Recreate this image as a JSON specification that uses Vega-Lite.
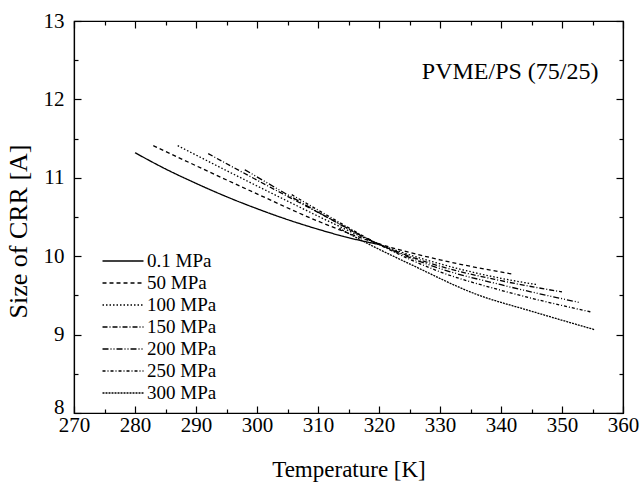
{
  "$schema": "https://vega.github.io/schema/vega-lite/v6.json",
  "width": 549,
  "height": 392,
  "autosize": "none",
  "padding": {"left": 74, "top": 21, "right": 19, "bottom": 76},
  "background": "white",
  "config": {
    "view": {"stroke": "black", "strokeWidth": 1.2},
    "font": "Liberation Serif"
  },
  "data": {"values": [
    {"p": "0.1 MPa", "T": 280, "v": 11.32},
    {"p": "0.1 MPa", "T": 285, "v": 11.113},
    {"p": "0.1 MPa", "T": 290, "v": 10.929},
    {"p": "0.1 MPa", "T": 295, "v": 10.759},
    {"p": "0.1 MPa", "T": 300, "v": 10.606},
    {"p": "0.1 MPa", "T": 305, "v": 10.467},
    {"p": "0.1 MPa", "T": 310, "v": 10.344},
    {"p": "0.1 MPa", "T": 315, "v": 10.236},
    {"p": "0.1 MPa", "T": 320, "v": 10.149},
    {"p": "50 MPa", "T": 283, "v": 11.41},
    {"p": "50 MPa", "T": 290, "v": 11.154},
    {"p": "50 MPa", "T": 300, "v": 10.795},
    {"p": "50 MPa", "T": 310, "v": 10.447},
    {"p": "50 MPa", "T": 319.5, "v": 10.17},
    {"p": "50 MPa", "T": 330, "v": 9.954},
    {"p": "50 MPa", "T": 342, "v": 9.77},
    {"p": "100 MPa", "T": 287, "v": 11.41},
    {"p": "100 MPa", "T": 295, "v": 11.092},
    {"p": "100 MPa", "T": 305, "v": 10.703},
    {"p": "100 MPa", "T": 312, "v": 10.436},
    {"p": "100 MPa", "T": 319.5, "v": 10.17},
    {"p": "100 MPa", "T": 330, "v": 9.903},
    {"p": "100 MPa", "T": 340, "v": 9.718},
    {"p": "100 MPa", "T": 346, "v": 9.636},
    {"p": "150 MPa", "T": 292, "v": 11.308},
    {"p": "150 MPa", "T": 300, "v": 10.97},
    {"p": "150 MPa", "T": 310, "v": 10.559},
    {"p": "150 MPa", "T": 319.5, "v": 10.17},
    {"p": "150 MPa", "T": 330, "v": 9.872},
    {"p": "150 MPa", "T": 340, "v": 9.688},
    {"p": "150 MPa", "T": 350, "v": 9.544},
    {"p": "200 MPa", "T": 298, "v": 11.103},
    {"p": "200 MPa", "T": 305, "v": 10.785},
    {"p": "200 MPa", "T": 312, "v": 10.477},
    {"p": "200 MPa", "T": 319.5, "v": 10.17},
    {"p": "200 MPa", "T": 330, "v": 9.842},
    {"p": "200 MPa", "T": 340, "v": 9.636},
    {"p": "200 MPa", "T": 352.8, "v": 9.411},
    {"p": "250 MPa", "T": 305.7, "v": 10.785},
    {"p": "250 MPa", "T": 312, "v": 10.498},
    {"p": "250 MPa", "T": 319.5, "v": 10.17},
    {"p": "250 MPa", "T": 330, "v": 9.801},
    {"p": "250 MPa", "T": 340, "v": 9.565},
    {"p": "250 MPa", "T": 354.8, "v": 9.288},
    {"p": "300 MPa", "T": 313.5, "v": 10.354},
    {"p": "300 MPa", "T": 319.5, "v": 10.108},
    {"p": "300 MPa", "T": 325, "v": 9.903},
    {"p": "300 MPa", "T": 336, "v": 9.513},
    {"p": "300 MPa", "T": 345, "v": 9.298},
    {"p": "300 MPa", "T": 355.4, "v": 9.062}
  ]},
  "resolve": {"axis": {"x": "independent", "y": "independent"}},
  "layer": [
    {
      "mark": {"type": "line", "color": "black", "strokeWidth": 1.3, "interpolate": "monotone"},
      "encoding": {
        "x": {
          "field": "T", "type": "quantitative",
          "scale": {"domain": [270, 360], "nice": false, "zero": false},
          "axis": {
            "title": "Temperature [K]",
            "values": [270, 275, 280, 285, 290, 295, 300, 305, 310, 315, 320, 325, 330, 335, 340, 345, 350, 355, 360],
            "labelExpr": "datum.value % 10 === 0 ? format(datum.value, 'd') : ''",
            "grid": false, "domainColor": "black", "domainWidth": 1.2, "tickColor": "black", "tickWidth": 1.2,
            "tickSize": {"condition": {"test": "datum.value % 10 === 0", "value": -7}, "value": -4},
            "labelPadding": 8, "labelFontSize": 21, "labelColor": "black", "labelFont": "Liberation Serif",
            "labelFlush": false, "labelOverlap": false,
            "titleFontSize": 23, "titleFont": "Liberation Serif", "titleFontWeight": "normal", "titleColor": "black", "titlePadding": 20
          }
        },
        "y": {
          "field": "v", "type": "quantitative",
          "scale": {"domain": [8, 13], "nice": false, "zero": false},
          "axis": {
            "title": "Size of CRR [A]",
            "values": [8, 8.5, 9, 9.5, 10, 10.5, 11, 11.5, 12, 12.5, 13],
            "labelExpr": "datum.value % 1 === 0 ? format(datum.value, 'd') : ''",
            "labelBaseline": {"condition": {"test": "datum.value === 8", "value": "alphabetic"}, "value": "middle"},
            "grid": false, "domainColor": "black", "domainWidth": 1.2, "tickColor": "black", "tickWidth": 1.2,
            "tickSize": {"condition": {"test": "datum.value % 1 === 0", "value": -7}, "value": -4},
            "labelPadding": 17, "labelFontSize": 21, "labelColor": "black", "labelFont": "Liberation Serif",
            "labelFlush": false, "labelOverlap": false,
            "titleFontSize": 26, "titleFont": "Liberation Serif", "titleFontWeight": "normal", "titleColor": "black", "titlePadding": 12,
            "titleY": 210
          }
        },
        "strokeDash": {
          "field": "p", "type": "nominal",
          "scale": {
            "domain": ["0.1 MPa", "50 MPa", "100 MPa", "150 MPa", "200 MPa", "250 MPa", "300 MPa"],
            "range": [[1, 0], [4, 3], [1.5, 2], [5, 2, 1, 2], [6, 2, 1, 2, 1, 2], [3, 2, 1, 2], [2, 1]]
          },
          "legend": {
            "title": null, "orient": "none", "legendX": 38, "legendY": 229,
            "symbolType": "M-2,0L2,0", "symbolSize": 420, "symbolStrokeColor": "black", "symbolStrokeWidth": 1.3,
            "symbolFillColor": "transparent",
            "labelFontSize": 19, "labelFont": "Liberation Serif", "labelColor": "black",
            "rowPadding": 1, "padding": 0, "labelOffset": 13
          }
        }
      }
    },
    {
      "mark": {"type": "point", "opacity": 0},
      "encoding": {
        "x": {"field": "T", "type": "quantitative",
          "axis": {"orient": "top", "title": null, "labels": false,
            "values": [270, 275, 280, 285, 290, 295, 300, 305, 310, 315, 320, 325, 330, 335, 340, 345, 350, 355, 360],
            "grid": false, "domainColor": "black", "domainWidth": 1.2, "tickColor": "black", "tickWidth": 1.2,
            "tickSize": {"condition": {"test": "datum.value % 10 === 0", "value": -7}, "value": -4}}},
        "y": {"field": "v", "type": "quantitative",
          "axis": {"orient": "right", "title": null, "labels": false,
            "values": [8, 8.5, 9, 9.5, 10, 10.5, 11, 11.5, 12, 12.5, 13],
            "grid": false, "domainColor": "black", "domainWidth": 1.2, "tickColor": "black", "tickWidth": 1.2,
            "tickSize": {"condition": {"test": "datum.value % 1 === 0", "value": -7}, "value": -4}}}
      }
    },
    {
      "data": {"values": [{"label": "PVME/PS (75/25)"}]},
      "mark": {"type": "text", "font": "Liberation Serif", "fontSize": 24, "color": "black", "align": "center", "baseline": "middle"},
      "encoding": {
        "text": {"field": "label", "type": "nominal"},
        "x": {"datum": 341.5, "type": "quantitative", "axis": null},
        "y": {"datum": 12.35, "type": "quantitative", "axis": null}
      }
    }
  ]
}
